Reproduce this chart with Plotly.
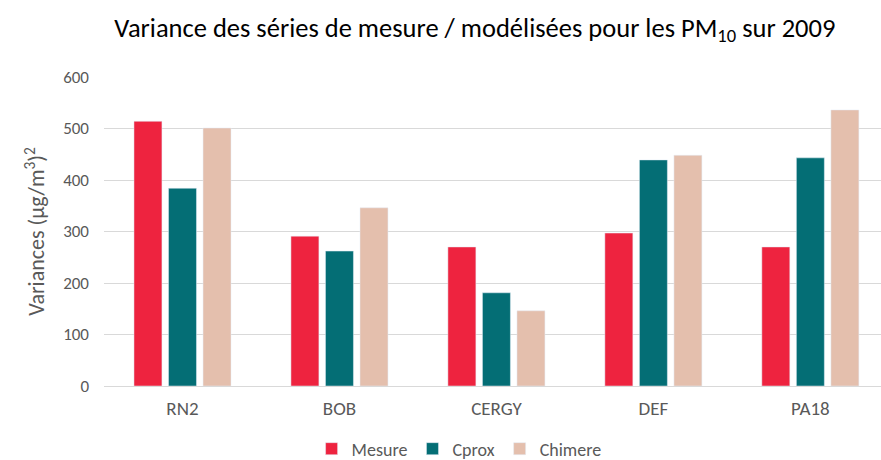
import plotly.graph_objs as go

stations = ["RN2", "BOB", "CERGY", "DEF", "PA18"]
mesure = [514, 291, 270, 297, 270]
cprox = [384, 262, 181, 439, 443]
chimere = [501, 346, 146, 448, 536]

FONT = "Carlito, Lato, sans-serif"
GRIS = "#595959"

fig = go.Figure()
fig.add_trace(go.Bar(x=stations, y=mesure, name="Mesure",
                     marker=dict(color="#EE233F")))
fig.add_trace(go.Bar(x=stations, y=cprox, name="Cprox",
                     marker=dict(color="#046E75")))
fig.add_trace(go.Bar(x=stations, y=chimere, name="Chimere",
                     marker=dict(color="#E4BFAD")))

fig.update_layout(
    width=881, height=460,
    title=dict(text="Variance des séries de mesure / modélisées pour les PM<sub>10</sub> sur 2009",
               x=0.539, xanchor="center", y=0.94, yanchor="middle",
               font=dict(family=FONT, size=26.5, color="black")),
    font=dict(family=FONT, color=GRIS, size=16),
    margin=dict(l=104, r=0, t=77, b=74),
    plot_bgcolor="white", paper_bgcolor="white",
    barmode="group", bargap=0.34, bargroupgap=0.19,
    # légende placée par rapport au conteneur pour ne pas réduire la zone du graphe
    legend=dict(orientation="h", x=0.457, xanchor="center",
                yref="container", y=0.024, yanchor="middle",
                font=dict(family=FONT, size=18, color=GRIS)),
)
fig.update_yaxes(range=[0, 600], dtick=100, showgrid=True, gridcolor="#D9D9D9",
                 gridwidth=1, zeroline=False, showline=False, ticks="",
                 automargin=False, ticklabelstandoff=14,
                 tickfont=dict(family=FONT, size=17, color=GRIS),
                 title=dict(text="Variances (µg/m<sup>3</sup>)<sup>2</sup>",
                            font=dict(family=FONT, size=22, color=GRIS), standoff=12))
# le graphe d'origine est légèrement rogné à droite
fig.update_xaxes(range=[-0.5, 4.45], showline=True, linecolor="#D9D9D9", ticks="",
                 automargin=False, ticklabelstandoff=5,
                 tickfont=dict(family=FONT, size=19, color=GRIS))

# la page html a une marge par défaut de 8px : on la retire
fig.write_html("out.html", config={"displayModeBar": False},
               post_script="document.body.style.margin='0';")
